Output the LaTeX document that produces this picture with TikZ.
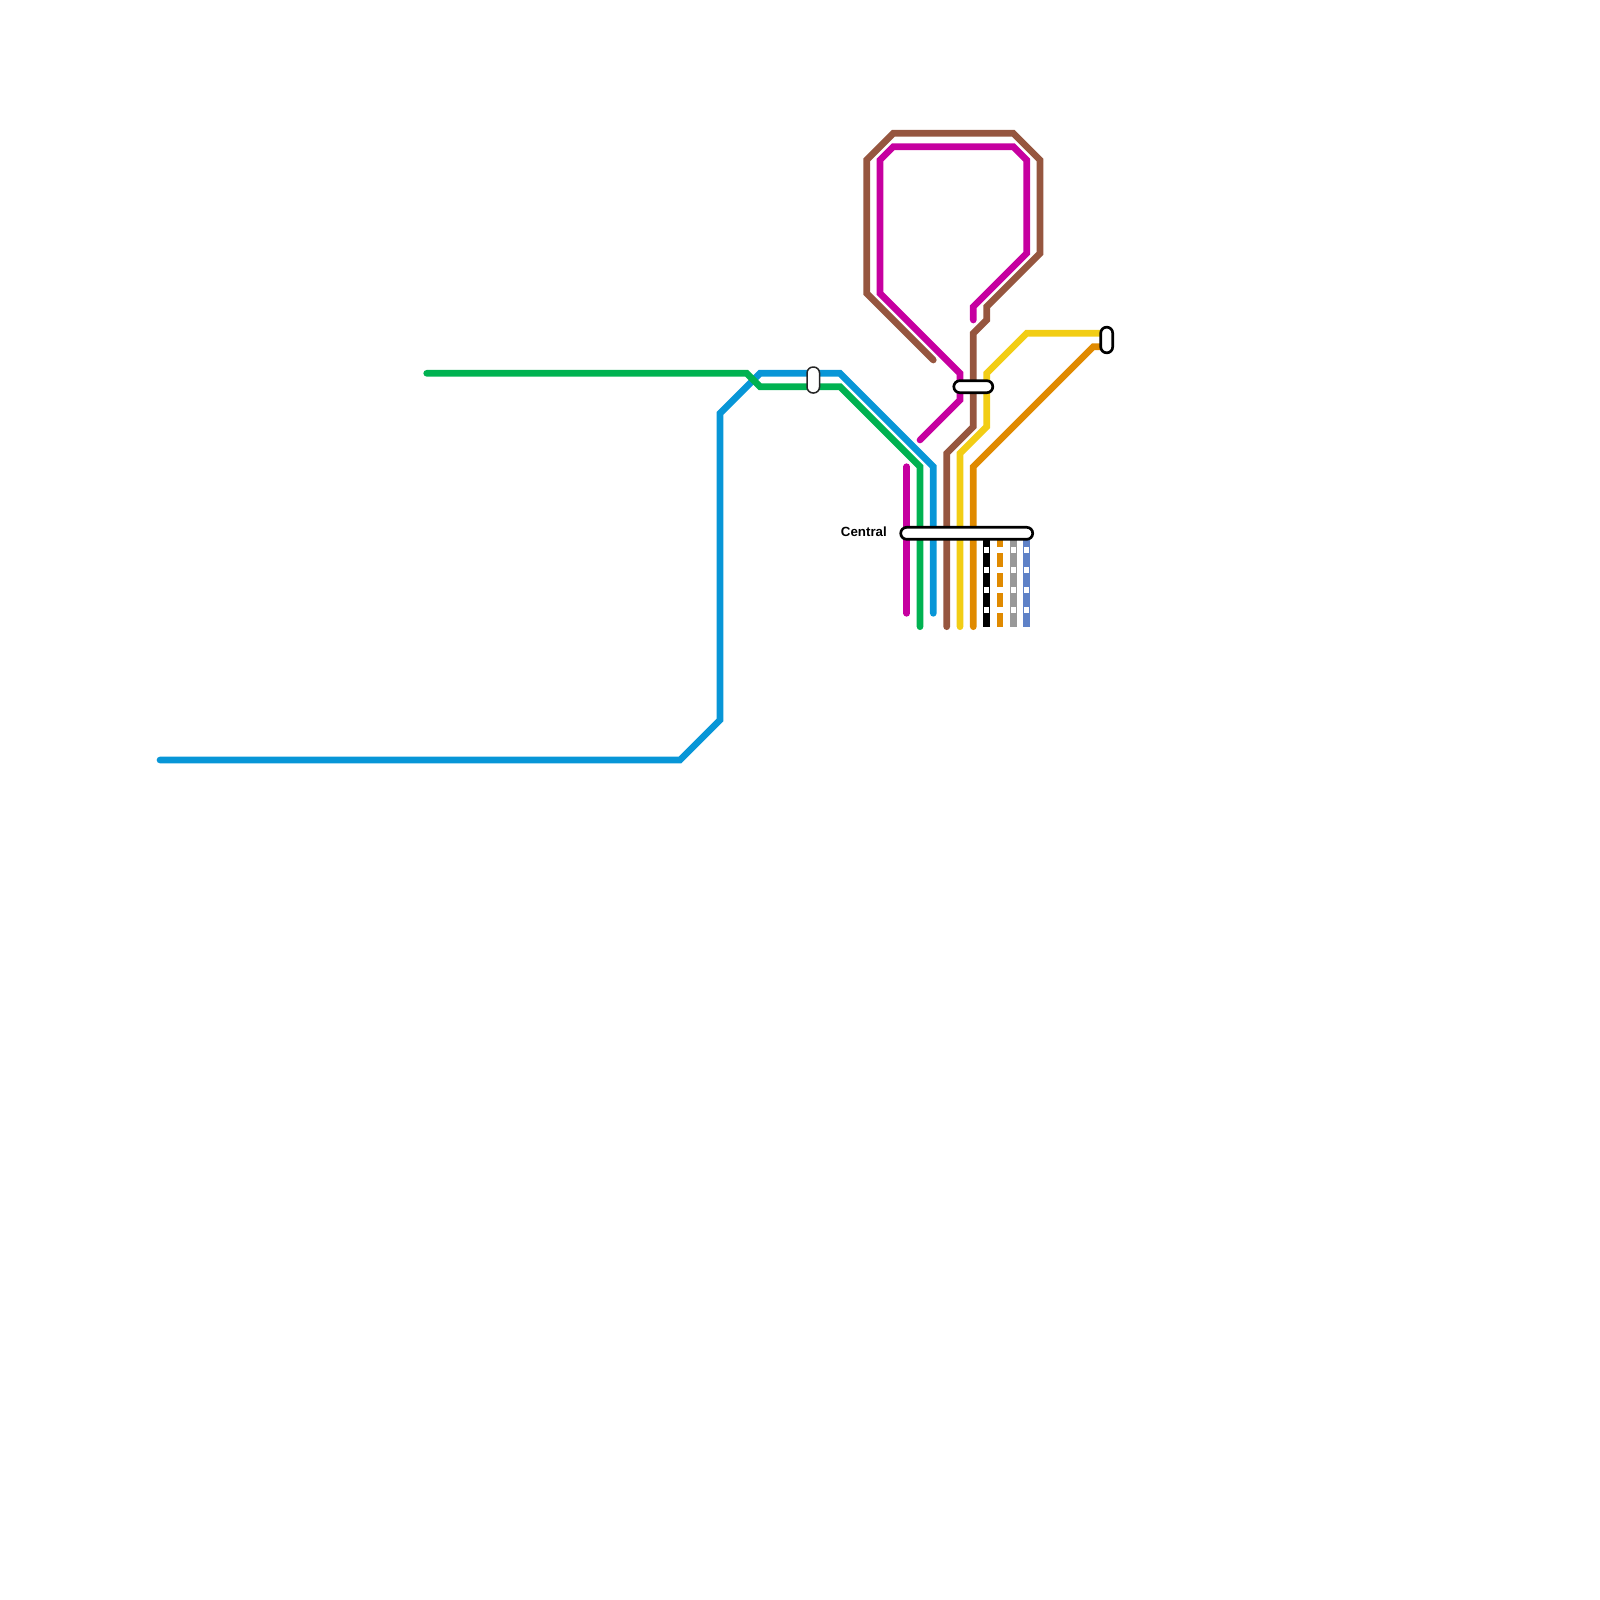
\documentclass[tikz,border=0pt]{standalone}
\usepackage{fontspec}
\setmainfont{Liberation Sans}
\definecolor{lblue}{HTML}{0896D7}
\definecolor{lgreen}{HTML}{00B251}
\definecolor{lmag}{HTML}{C600A0}
\definecolor{lbrown}{HTML}{96563F}
\definecolor{lyellow}{HTML}{F2CD14}
\definecolor{lorange}{HTML}{E08A00}
\definecolor{lgray}{HTML}{999999}
\definecolor{lsteel}{HTML}{5F82C8}
\tikzset{
  route/.style={line width=6.67pt,line cap=round,line join=miter,miter limit=10},
  stripe/.style={line width=6.67pt,line cap=butt},
  gapsq/.style={fill=white,draw=none,minimum width=5.2pt,minimum height=6pt,inner sep=0pt,outer sep=0pt},
  stn/.style={draw=black,fill=white,line width=2.67pt,rounded corners=6pt,inner sep=0pt,minimum width=#1},
  stnthin/.style={draw=black!85,fill=white,line width=1.5pt,rounded corners=6pt,inner sep=0pt},
  lab/.style={font=\fontsize{13.3}{16}\selectfont\bfseries,inner sep=0pt,anchor=east,text=black}
}
\begin{document}
\begin{tikzpicture}[x=1pt,y=-1pt]
\useasboundingbox (0,0) rectangle (1600,1600);
\coordinate (blueW) at (160,760);
\coordinate (greenW) at (426.7,373.3);
\coordinate (cen) at (966.7,533.3);
\coordinate (east) at (1106.7,340);

\draw[route,lblue] (blueW) -- (680,760) -- (720,720) -- (720,413.3) -- (760,373.3) -- (840,373.3) -- (933.3,466.7) -- (933.3,613.3);
\draw[route,lgreen] (greenW) -- (746.7,373.3) -- (760,386.7) -- (840,386.7) -- (920,466.7) -- (920,626.7);
\draw[route,lmag] (906.7,466.7) -- (906.7,613.3);
\draw[route,lbrown] (933.3,360) -- (866.7,293.3) -- (866.7,160) -- (893.3,133.3) -- (1013.3,133.3) -- (1040,160) -- (1040,253.3) -- (986.7,306.7) -- (986.7,320) -- (973.3,333.3) -- (973.3,426.7) -- (946.7,453.3) -- (946.7,626.7);
\draw[route,lmag] (973.3,320) -- (973.3,306.7) -- (1026.7,253.3) -- (1026.7,160) -- (1013.3,146.7) -- (893.3,146.7) -- (880,160) -- (880,293.3) -- (960,373.3) -- (960,400) -- (920,440);
\draw[route,lyellow] (east |- 0,333.3) -- (1026.7,333.3) -- (986.7,373.3) -- (986.7,426.7) -- (960,453.3) -- (960,626.7);
\draw[route,lorange] (east |- 0,346.7) -- (1093.3,346.7) -- (973.3,466.7) -- (973.3,626.7);
\draw[stripe,black] (986.7,533.3) -- (986.7,626.7);
\draw[stripe,lorange] (1000,533.3) -- (1000,626.7);
\draw[stripe,lgray] (1013.3,533.3) -- (1013.3,626.7);
\draw[stripe,lsteel] (1026.7,533.3) -- (1026.7,626.7);
\foreach \xx in {986.7,1000,1013.3,1026.7}
  \foreach \yy in {550,570,590,610}
    \fill[white] (\xx-2.7,\yy-3) rectangle (\xx+2.7,\yy+3);

\node[stn=132pt,minimum height=12pt] (central) at (cen) {};
\node[stn=39pt,minimum height=12pt] (mid) at (973.3,386.7) {};
\node[stn=12pt,minimum height=25.7pt] (right) at (east) {};
\node[stnthin,minimum width=12.5pt,minimum height=26pt] (top) at (813.3,380) {};
\node[lab] (centralLabel) at (887,532) {Central};
\end{tikzpicture}
\end{document}
